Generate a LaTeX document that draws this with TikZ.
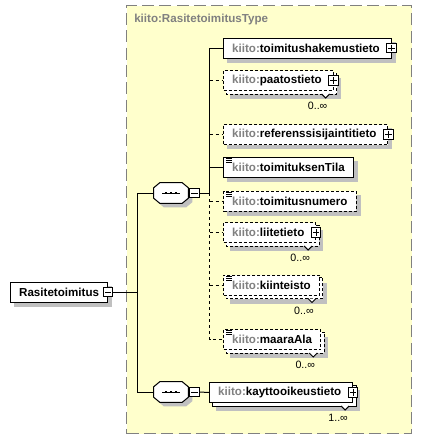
\documentclass[tikz,border=0pt]{standalone}
\usepackage{fontspec}
\setmainfont{Liberation Sans}
\usetikzlibrary{positioning,calc}
\pgfdeclarelayer{shadelayer}
\pgfdeclarelayer{backlayer}
\pgfsetlayers{shadelayer,backlayer,main}
\definecolor{TypeFill}{RGB}{255,255,204}
\definecolor{TypeLine}{RGB}{128,128,128}
\definecolor{Shade}{RGB}{192,192,192}
\definecolor{Prefix}{RGB}{128,128,128}
\newcommand{\kiito}[1]{\textcolor{Prefix}{kiito:}#1}
% octagon round a compositor node, moved by (#2,#3)
\newcommand{\octo}[3]{($(#1.north west)+(6+#2,#3)$) -- ($(#1.north east)+(-6+#2,#3)$) -- ($(#1.north east)+(#2,-5+#3)$)
  -- ($(#1.south east)+(#2,5+#3)$) -- ($(#1.south east)+(-6+#2,#3)$) -- ($(#1.south west)+(6+#2,#3)$)
  -- ($(#1.south west)+(#2,5+#3)$) -- ($(#1.north west)+(#2,-5+#3)$) -- cycle}
\tikzstyle{El}=[rectangle,draw=black,fill=white,line width=0.75pt,minimum height=15pt,inner xsep=6.5pt,inner ysep=0pt,anchor=west,font=\fontsize{8.7}{10}\selectfont\bfseries]
\tikzstyle{Opt}=[dash pattern=on 2.25pt off 1.5pt]
\tikzstyle{Pm}=[rectangle,draw=black,fill=white,line width=0.75pt,minimum size=7pt,inner sep=0pt]
\tikzstyle{Cnt}=[anchor=north east,inner sep=0pt,font=\fontsize{8}{9}\selectfont]
\tikzset{HasPlus/.style={execute at end node=\hspace{2pt}},
  Plus/.style={Pm,path picture={
      \draw[line width=0.75pt] ([xshift=-2.4pt]path picture bounding box.center) -- ([xshift=2.4pt]path picture bounding box.center)
        ([yshift=-2.4pt]path picture bounding box.center) -- ([yshift=2.4pt]path picture bounding box.center);}},
  Minus/.style={Pm,path picture={
      \draw[line width=0.75pt] ([xshift=-2.4pt]path picture bounding box.center) -- ([xshift=2.4pt]path picture bounding box.center);}}
}

\begin{document}
\begin{tikzpicture}[x=0.75pt,y=0.75pt]
  \tikzstyle{TypeBox}=[rectangle,draw=TypeLine,fill=TypeFill,line width=0.75pt,dash pattern=on 9pt off 4pt,minimum width=213.75pt,minimum height=321pt,anchor=north west,inner sep=0pt]
  \tikzstyle{Seq}=[rectangle,minimum width=25.5pt,minimum height=15pt,inner sep=0pt]
  \tikzstyle{Link}=[line width=0.75pt]
  \tikzstyle{OptLink}=[Link,dash pattern=on 2.25pt off 2.25pt]

  \def\colx {223}
  \useasboundingbox (0,0) rectangle (422,-440);

  \begin{pgfonlayer}{shadelayer}
    \node [TypeBox] (type) at (126,-5) {};
  \end{pgfonlayer}
  \node [anchor=west,inner sep=0pt,text=Prefix,font=\fontsize{8.7}{10}\selectfont\bfseries] (typename) at (134,-19) {kiito:RasitetoimitusType};

  \node [El] (root) at (10,-292) {Rasitetoimitus};
  \node [Minus] (rootm) at (root.east) {};

  \node [Seq] (seqA) at (171,-193) {};
  \node [Minus,right=0.75pt of seqA] (seqAm) {};
  \node [Seq] (seqB) at (171,-392) {};
  \node [Minus,right=0.75pt of seqB] (seqBm) {};
  \foreach \s in {seqA,seqB}
  {
    \begin{pgfonlayer}{shadelayer}
      \fill [Shade] \octo{\s}{4}{-4};
    \end{pgfonlayer}
    \draw [Link,fill=white] \octo{\s}{0}{0};
    \draw [Link] ([xshift=-6.75pt]\s.center) -- ([xshift=6.75pt]\s.center);
    \foreach \d in {-3.75,0,3.75}
      \fill ([xshift=\d pt]\s.center) +(-1.3,-1.3) rectangle +(1.3,1.3);
  }

  % elements of the first sequence
  \node [El,HasPlus] (hak) at (\colx,-48) {\kiito{toimitushakemustieto}};
  \node [El,Opt,HasPlus] (paat) at (\colx,-80.5) {\kiito{paatostieto}};
  \node [El,Opt,HasPlus] (ref) at (\colx,-134.5) {\kiito{referenssisijaintitieto}};
  \node [El] (tila) at (\colx,-167) {\kiito{toimituksenTila}};
  \node [El,Opt] (num) at (\colx,-201) {\kiito{toimitusnumero}};
  \node [El,Opt,HasPlus] (liite) at (\colx,-232.5) {\kiito{liitetieto}};
  \node [El,Opt] (kiint) at (\colx,-285) {\kiito{kiinteisto}};
  \node [El,Opt] (maara) at (\colx,-339.5) {\kiito{maaraAla}};
  % second sequence
  \node [El,HasPlus] (kay) at (209,-392.5) {\kiito{kayttooikeustieto}};

  % shadows and stacked copies
  \begin{pgfonlayer}{shadelayer}
    \foreach \n in {root,hak,ref,tila,num}
      \fill [Shade] ($(\n.north west)+(4,-4)$) rectangle ($(\n.south east)+(4,-4)$);
    \foreach \n in {paat,liite,kiint,maara,kay}
      \fill [Shade] ($(\n.north west)+(7,-8)$) rectangle ($(\n.south east)+(7,-8)$);
  \end{pgfonlayer}
  \begin{pgfonlayer}{backlayer}
    \foreach \n in {paat,liite,kiint,maara}
      \draw [Link,Opt,fill=white] ($(\n.north west)+(3,-3)$) rectangle ($(\n.south east)+(3,-3)$);
    \draw [Link,fill=white] ($(kay.north west)+(3,-3)$) rectangle ($(kay.south east)+(3,-3)$);
  \end{pgfonlayer}

  \foreach \n in {hak,paat,ref,liite,kay}
    \node [Plus] (\n p) at (\n.east) {};

  \foreach \n in {tila,num,kiint,maara}
    \foreach \k in {1.5,3.5,5.5}
      \draw [Link] ($(\n.north west)+(3,-\k)$) -- ++(6,0);

  \foreach \n in {paat,liite,kiint,maara,kay}
    \draw [Link,fill=white] ($(\n.south east)+(-12,-3)$) -- ++(4,-4) -- ++(4,4);

  \node [Cnt] (paatc) at ($(paat.south east)+(-6,-11)$) {0..∞};
  \node [Cnt] (liitec) at ($(liite.south east)+(-6,-11)$) {0..∞};
  \node [Cnt] (kiintc) at ($(kiint.south east)+(-6,-11)$) {0..∞};
  \node [Cnt] (maarac) at ($(maara.south east)+(-6,-11)$) {0..∞};
  \node [Cnt] (kayc) at ($(kay.south east)+(-5,-11)$) {1..∞};

  % connectors
  \coordinate (trunk) at ($(rootm.east)+(24,0)$);
  \coordinate (spine) at ($(seqAm.east)+(10,0)$);
  \draw [Link] (rootm.east) -- (trunk) |- (seqA.west);
  \draw [Link] (trunk) |- (seqB.west);
  \draw [Link] (seqAm.east) -- (spine) |- (hak.west);
  \draw [Link] (spine) |- (tila.west);
  \draw [OptLink] (spine) |- (maara.west);
  \foreach \n in {paat,ref,num,liite,kiint}
    \draw [OptLink] (spine |- \n.west) -- (\n.west);
  \draw [Link] (seqBm.east) -- (kay.west);
\end{tikzpicture}
\end{document}
